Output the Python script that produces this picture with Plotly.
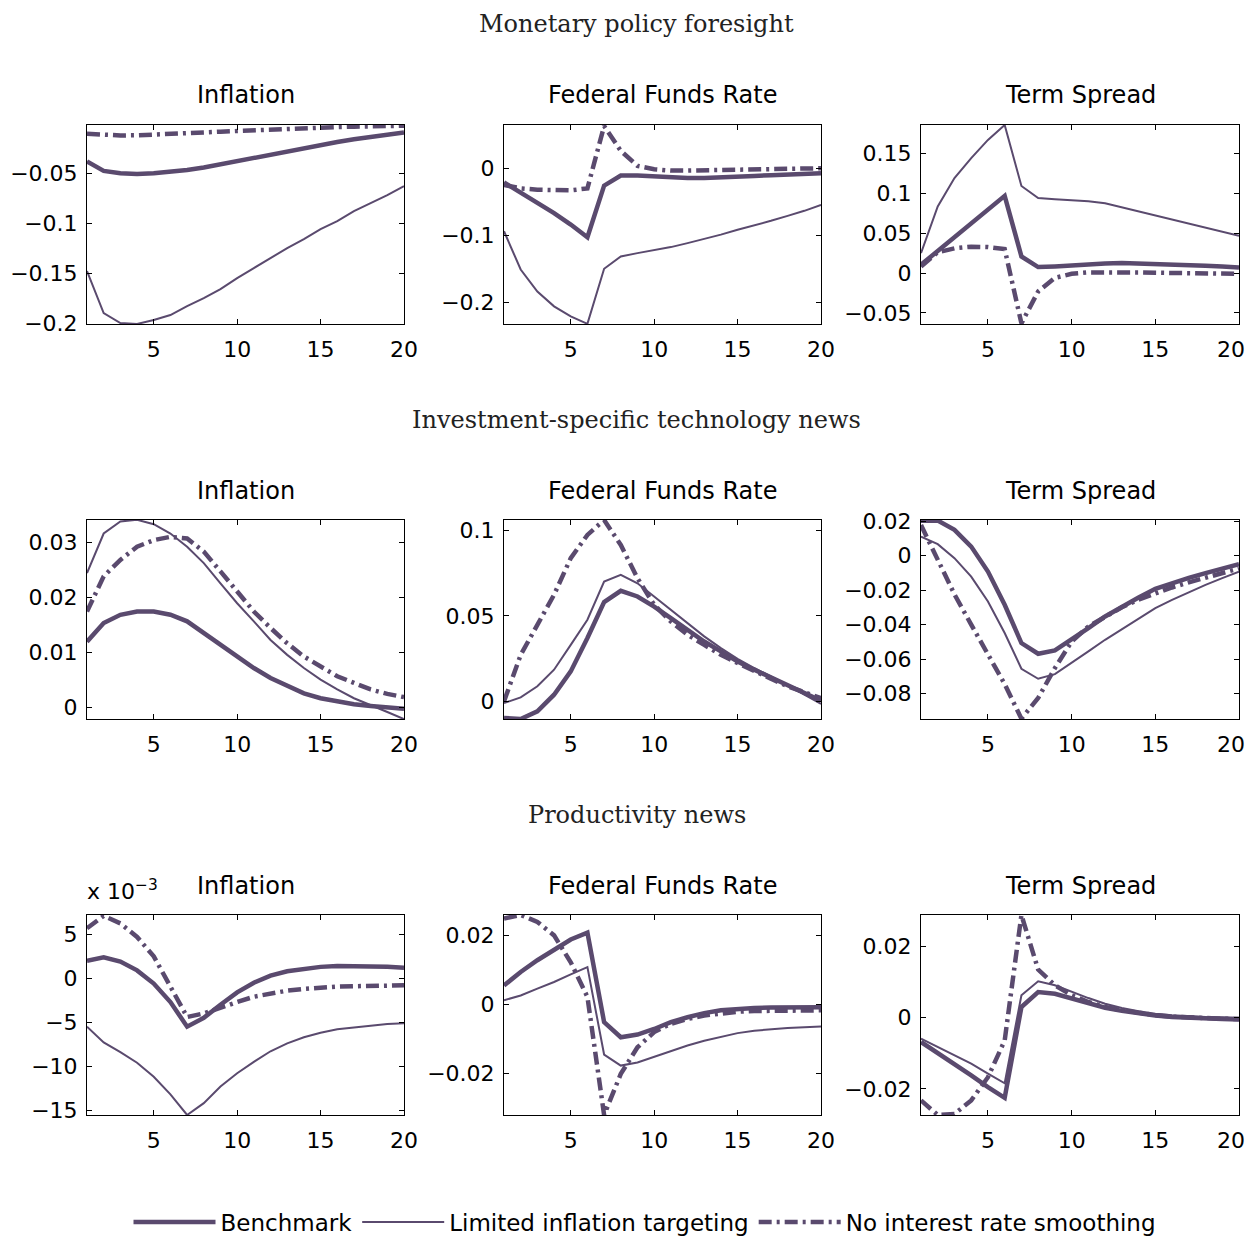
import plotly.graph_objects as go

# ---------------- data ----------------
horizon = list(range(1, 21))

series_names = ["Benchmark", "Limited inflation targeting", "No interest rate smoothing"]
section_titles = ["Monetary policy foresight", "Investment-specific technology news", "Productivity news"]
panel_titles = ["Inflation", "Federal Funds Rate", "Term Spread"]

# Monetary policy foresight
mp_infl_bench = [-0.0383, -0.0477, -0.0500, -0.0507, -0.0500, -0.0487, -0.0467, -0.0443, -0.0410, -0.0377,
                 -0.0343, -0.0310, -0.0277, -0.0243, -0.0213, -0.0187, -0.0160, -0.0137, -0.0113, -0.0093]
mp_infl_lit = [-0.148, -0.190, -0.200, -0.201, -0.197, -0.192, -0.183, -0.175, -0.166, -0.155,
               -0.145, -0.135, -0.125, -0.116, -0.106, -0.098, -0.088, -0.080, -0.072, -0.063]
mp_infl_nis = [-0.0105, -0.0118, -0.0122, -0.0120, -0.0115, -0.0108, -0.0100, -0.0092, -0.0084, -0.0076,
               -0.0068, -0.0061, -0.0054, -0.0048, -0.0043, -0.0038, -0.0034, -0.0030, -0.0027, -0.0024]

mp_ffr_bench = [-0.0213, -0.036, -0.052, -0.067, -0.084, -0.103, -0.026, -0.011, -0.011, -0.0124,
                -0.0139, -0.0144, -0.0144, -0.0139, -0.0124, -0.0114, -0.0104, -0.0094, -0.0084, -0.0074]
mp_ffr_lit = [-0.094, -0.151, -0.184, -0.206, -0.221, -0.232, -0.150, -0.1315, -0.1266, -0.1226,
              -0.1176, -0.1117, -0.1057, -0.099, -0.0918, -0.0854, -0.0784, -0.071, -0.0635, -0.0546]
mp_ffr_nis = [-0.0248, -0.030, -0.032, -0.033, -0.033, -0.030, 0.063, 0.026, 0.0035, -0.0015,
              -0.0035, -0.0035, -0.003, -0.0025, -0.0025, -0.002, -0.0015, -0.001, -0.0005, 0.0]

mp_ts_bench = [0.0104, 0.0275, 0.045, 0.062, 0.080, 0.0967, 0.0208, 0.0075, 0.0083, 0.0100,
               0.0113, 0.0120, 0.0125, 0.0121, 0.0117, 0.0108, 0.0100, 0.0092, 0.0083, 0.0071]
mp_ts_lit = [0.025, 0.0833, 0.119, 0.144, 0.1667, 0.1854, 0.109, 0.094, 0.0925, 0.0917,
             0.0900, 0.0875, 0.0824, 0.0773, 0.0722, 0.0671, 0.0620, 0.0569, 0.0518, 0.0467]
mp_ts_nis = [0.0083, 0.026, 0.031, 0.033, 0.0325, 0.030, -0.063, -0.023, -0.006, -0.001,
             0.0008, 0.0012, 0.0012, 0.0008, 0.0004, 0.0004, 0.0, 0.0, -0.0004, -0.001]

# Investment-specific technology news
ist_infl_bench = [0.0119, 0.0153, 0.0168, 0.0174, 0.0174, 0.0168, 0.0156, 0.0135, 0.0113, 0.0092,
                  0.0071, 0.0053, 0.0038, 0.0025, 0.0016, 0.0010, 0.0005, 0.0002, 0.0, -0.0003]
ist_infl_lit = [0.0244, 0.0316, 0.0338, 0.0341, 0.0333, 0.0316, 0.0292, 0.0262, 0.0225, 0.0189,
                0.0156, 0.0122, 0.0095, 0.0071, 0.0050, 0.0032, 0.0016, 0.0004, -0.0009, -0.0022]
ist_infl_nis = [0.0174, 0.0238, 0.0268, 0.0292, 0.0304, 0.0310, 0.0307, 0.0283, 0.0247, 0.0210,
                0.0174, 0.0144, 0.0116, 0.0092, 0.0074, 0.0056, 0.0044, 0.0032, 0.0024, 0.0018]

ist_ffr_bench = [-0.0097, -0.0103, -0.0058, 0.0039, 0.0175, 0.037, 0.058, 0.0646, 0.0613, 0.0554,
                 0.0486, 0.0418, 0.035, 0.0292, 0.0233, 0.0185, 0.0140, 0.0097, 0.0049, 0.0004]
ist_ffr_lit = [-0.001, 0.0023, 0.0088, 0.0185, 0.033, 0.0477, 0.070, 0.074, 0.069, 0.0613,
               0.0535, 0.0457, 0.038, 0.0311, 0.0249, 0.0195, 0.0146, 0.0095, 0.0040, -0.0015]
ist_ffr_nis = [0.0, 0.0272, 0.0447, 0.0623, 0.0837, 0.0973, 0.106, 0.0914, 0.072, 0.0564,
               0.0467, 0.0389, 0.033, 0.0272, 0.0224, 0.0175, 0.0132, 0.0088, 0.0054, 0.0019]

ist_ts_bench = [0.0201, 0.0203, 0.0149, 0.0052, -0.0093, -0.0285, -0.0507, -0.0569, -0.0550, -0.0488,
                -0.0420, -0.0353, -0.0295, -0.0243, -0.0193, -0.0160, -0.0129, -0.0102, -0.0075, -0.0050]
ist_ts_lit = [0.0110, 0.0066, -0.0015, -0.0122, -0.0266, -0.0449, -0.0656, -0.0714, -0.0687, -0.0623,
              -0.0555, -0.0488, -0.0426, -0.0368, -0.0305, -0.0257, -0.0212, -0.0170, -0.0131, -0.0093]
ist_ts_nis = [0.0177, -0.0025, -0.0225, -0.0400, -0.0575, -0.0745, -0.0945, -0.0825, -0.0652, -0.0498,
              -0.0411, -0.0355, -0.0300, -0.0255, -0.0218, -0.0185, -0.0155, -0.0128, -0.0103, -0.0075]

# Productivity news
pn_infl_bench = [0.0020, 0.0024, 0.0019, 0.0009, -0.0006, -0.0027, -0.0055, -0.0045, -0.0030, -0.0016,
                 -0.0005, 0.0003, 0.0008, 0.0011, 0.0013, 0.0014, 0.0014, 0.0014, 0.0013, 0.0012]
pn_infl_lit = [-0.0055, -0.0073, -0.0084, -0.0096, -0.0112, -0.0132, -0.01555, -0.0142, -0.0123, -0.0108,
               -0.0095, -0.0083, -0.0074, -0.0067, -0.0062, -0.0058, -0.0056, -0.0054, -0.0052, -0.0051]
pn_infl_nis = [0.0057, 0.0071, 0.00625, 0.0047, 0.0025, -0.00095, -0.0044, -0.0040, -0.0033, -0.0027,
               -0.0021, -0.0017, -0.0014, -0.0012, -0.00105, -0.00095, -0.0009, -0.00085, -0.00082, -0.0008]

pn_ffr_bench = [0.0055, 0.0094, 0.0128, 0.0157, 0.0188, 0.0208, -0.0051, -0.0095, -0.0087, -0.0071,
                -0.0051, -0.0037, -0.0025, -0.0017, -0.0013, -0.0010, -0.0009, -0.0008, -0.0008, -0.0008]
pn_ffr_lit = [0.0012, 0.0026, 0.0046, 0.0065, 0.0087, 0.0108, -0.0145, -0.0177, -0.0168, -0.0151,
              -0.0134, -0.0119, -0.0105, -0.0093, -0.0083, -0.0076, -0.0071, -0.0068, -0.0066, -0.0064]
pn_ffr_nis = [0.0249, 0.0259, 0.0239, 0.0200, 0.0122, 0.0022, -0.032, -0.0201, -0.0124, -0.0080,
              -0.0056, -0.0042, -0.0032, -0.0025, -0.0021, -0.0019, -0.0018, -0.0017, -0.0017, -0.0017]

pn_ts_bench = [-0.0068, -0.0099, -0.0129, -0.0162, -0.0195, -0.0225, 0.0030, 0.0072, 0.0067, 0.0053,
               0.0039, 0.0028, 0.0019, 0.0011, 0.0006, 0.0002, -0.0001, -0.0003, -0.0004, -0.0005]
pn_ts_lit = [-0.0059, -0.0082, -0.0106, -0.0129, -0.0157, -0.0184, 0.0063, 0.0102, 0.0091, 0.0072,
             0.0055, 0.0039, 0.0027, 0.0018, 0.0011, 0.0007, 0.0004, 0.0002, 0.0001, 0.0]
pn_ts_nis = [-0.0232, -0.0273, -0.0270, -0.0232, -0.0167, -0.0064, 0.0288, 0.0135, 0.0091, 0.0063,
             0.0044, 0.0030, 0.0021, 0.0013, 0.0007, 0.0003, 0.0, -0.0002, -0.0003, -0.0004]

# tick labels
x_tickvals = [5, 10, 15, 20]
x_ticktext = ["5", "10", "15", "20"]

ytick_vals = [
    [-0.2, -0.15, -0.1, -0.05], [-0.2, -0.1, 0.0], [-0.05, 0.0, 0.05, 0.1, 0.15],
    [0.0, 0.01, 0.02, 0.03], [0.0, 0.05, 0.1], [-0.08, -0.06, -0.04, -0.02, 0.0, 0.02],
    [-0.015, -0.010, -0.005, 0.0, 0.005], [-0.02, 0.0, 0.02], [-0.02, 0.0, 0.02],
]
ytick_text = [
    ["\u22120.2", "\u22120.15", "\u22120.1", "\u22120.05"], ["\u22120.2", "\u22120.1", "0"],
    ["\u22120.05", "0", "0.05", "0.1", "0.15"],
    ["0", "0.01", "0.02", "0.03"], ["0", "0.05", "0.1"],
    ["\u22120.08", "\u22120.06", "\u22120.04", "\u22120.02", "0", "0.02"],
    ["\u221215", "\u221210", "\u22125", "0", "5"], ["\u22120.02", "0", "0.02"], ["\u22120.02", "0", "0.02"],
]

# ---------------- layout / style ----------------
panels = [
    [mp_infl_bench, mp_infl_lit, mp_infl_nis], [mp_ffr_bench, mp_ffr_lit, mp_ffr_nis], [mp_ts_bench, mp_ts_lit, mp_ts_nis],
    [ist_infl_bench, ist_infl_lit, ist_infl_nis], [ist_ffr_bench, ist_ffr_lit, ist_ffr_nis], [ist_ts_bench, ist_ts_lit, ist_ts_nis],
    [pn_infl_bench, pn_infl_lit, pn_infl_nis], [pn_ffr_bench, pn_ffr_lit, pn_ffr_nis], [pn_ts_bench, pn_ts_lit, pn_ts_nis],
]
y_ranges = [
    [-0.201, -0.0017], [-0.2323, 0.0645], [-0.0638, 0.1854],
    [-0.00218, 0.03406], [-0.0103, 0.106], [-0.0947, 0.0206],
    [-0.01555, 0.0072], [-0.032, 0.0259], [-0.0273, 0.0288],
]

# the page body has an 8px margin, so the figure is sized to fill the rest of the window
PAGE_MARGIN = 8
VISIBLE_RIGHT = 1247          # right-most window pixel that shows up in the picture
W, H = 1256 - PAGE_MARGIN, 1237 - PAGE_MARGIN


def fx(px):   # window x-pixel -> paper fraction
    return (px - PAGE_MARGIN) / W


def fy(py):   # window y-pixel (from top) -> paper fraction
    return 1 - (py - PAGE_MARGIN) / H


col_px = [(87, 404), (504, 821), (921, 1239)]
row_px = [(125, 324), (520, 719), (915, 1115)]
sec_title_y = [24, 420, 815]
panel_title_y = [95, 491, 886]
legend_y = 1222

COLOR = "#5a4a6e"
styles = [
    dict(color=COLOR, width=4.5, dash="solid"),
    dict(color=COLOR, width=2, dash="solid"),
    dict(color=COLOR, width=4.5, dash="13px,5px,3px,5px"),
]

fig = go.Figure()
layout_axes = {}
annotations = []
FONT = "DejaVu Sans"

for k, series in enumerate(panels):
    r, c = divmod(k, 3)
    idx = k + 1
    xs = "" if idx == 1 else str(idx)
    for s, (vals, st) in enumerate(zip(series, styles)):
        fig.add_trace(go.Scatter(
            x=horizon, y=vals, mode="lines", line=st,
            name=series_names[s], legendgroup=series_names[s],
            showlegend=(k == 0), xaxis="x" + xs, yaxis="y" + xs,
            hoverinfo="x+y+name",
        ))
    x0, x1 = col_px[c]
    y0, y1 = row_px[r]
    common = dict(showline=True, linecolor="black", linewidth=1, mirror="allticks",
                  ticks="inside", ticklen=5, tickcolor="black", tickwidth=1,
                  showgrid=False, zeroline=False, automargin=False,
                  tickfont=dict(family=FONT, size=22, color="black"))
    xtext = list(x_ticktext)
    if c == 2:
        # last label of the right column would run past the visible window edge:
        # draw it as a right-aligned text that ends at the edge instead
        xtext[-1] = ""
        annotations.append(dict(
            text=x_ticktext[-1], x=fx(VISIBLE_RIGHT), y=fy(y1 + 25),
            xref="paper", yref="paper", xanchor="right", yanchor="middle",
            showarrow=False, font=dict(family=FONT, size=22, color="black")))
    layout_axes["xaxis" + xs] = dict(
        domain=[fx(x0), fx(x1)], anchor="y" + xs, range=[1, 20],
        tickmode="array", tickvals=x_tickvals, ticktext=xtext,
        ticklabelstandoff=6, **common)
    layout_axes["yaxis" + xs] = dict(
        domain=[fy(y1), fy(y0)], anchor="x" + xs, range=y_ranges[k],
        tickmode="array", tickvals=ytick_vals[k], ticktext=ytick_text[k],
        ticklabelstandoff=4, **common)
    annotations.append(dict(
        text=panel_titles[c], x=fx((x0 + x1) / 2), y=fy(panel_title_y[r]),
        xref="paper", yref="paper", xanchor="center", yanchor="middle",
        showarrow=False, font=dict(family=FONT, size=24, color="black")))

for r in range(3):
    annotations.append(dict(
        text=section_titles[r], x=fx(636.5), y=fy(sec_title_y[r]),
        xref="paper", yref="paper", xanchor="center", yanchor="middle",
        showarrow=False, font=dict(family="DejaVu Serif", size=24, color="#222222")))

annotations.append(dict(
    text="x 10<sup>\u22123</sup>", x=fx(85), y=fy(890),
    xref="paper", yref="paper", xanchor="left", yanchor="middle",
    showarrow=False, font=dict(family=FONT, size=22, color="black")))

fig.update_layout(
    width=W, height=H, autosize=False,
    margin=dict(l=0, r=0, t=0, b=0, autoexpand=False),
    paper_bgcolor="white", plot_bgcolor="white",
    annotations=annotations,
    legend=dict(orientation="h", x=fx(645), xanchor="center", y=fy(legend_y), yanchor="middle",
                font=dict(family=FONT, size=23, color="black"), itemwidth=82,
                bgcolor="rgba(0,0,0,0)"),
    **layout_axes,
)

fig.write_html("out.html")
